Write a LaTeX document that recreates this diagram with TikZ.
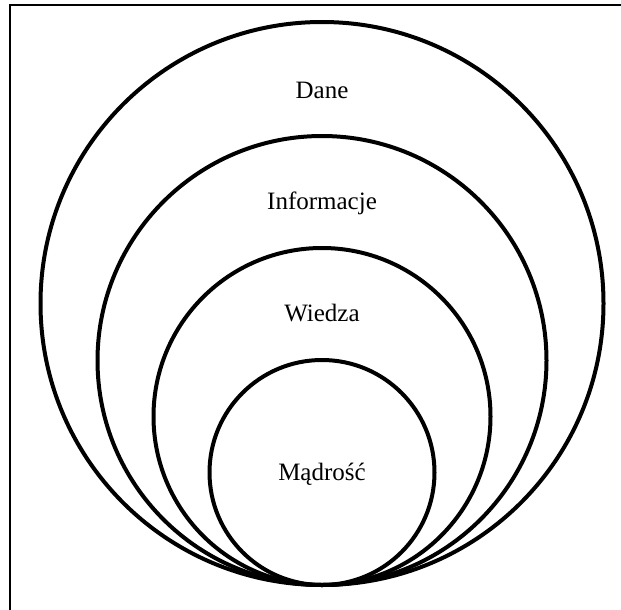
\documentclass[tikz,border=0pt]{standalone}
\usepackage{fontspec}
\setmainfont{Liberation Serif}
\begin{document}
\begin{tikzpicture}[x=1pt,y=-1pt,
  ring/.style={draw=black,line width=4pt},
  lbl/.style={font=\fontsize{25}{30}\selectfont,anchor=base,inner sep=0pt},
  frame/.style={draw=black,line width=2.5pt}]
\useasboundingbox (0,0) rectangle (621,610);
\coordinate (tl) at (10,5);
\coordinate (tr) at (621,5);
\coordinate (bl) at (10,610);
\draw[frame] (tr) -- (tl) -- (bl);
\node[ring,circle,minimum size=563pt,inner sep=0pt] (c1) at (322,303.5) {};
\node[ring,circle,minimum size=449pt,inner sep=0pt] (c2) at (322,360.5) {};
\node[ring,circle,minimum size=337pt,inner sep=0pt] (c3) at (322,416.5) {};
\node[ring,circle,minimum size=225pt,inner sep=0pt] (c4) at (322,472.5) {};
\node[lbl] (dane) at (322,99) {Dane};
\node[lbl] (info) at (322,209) {Informacje};
\node[lbl] (wiedza) at (322,321) {Wiedza};
\node[lbl] (madrosc) at (322,480) {Mądrość};
\end{tikzpicture}
\end{document}
